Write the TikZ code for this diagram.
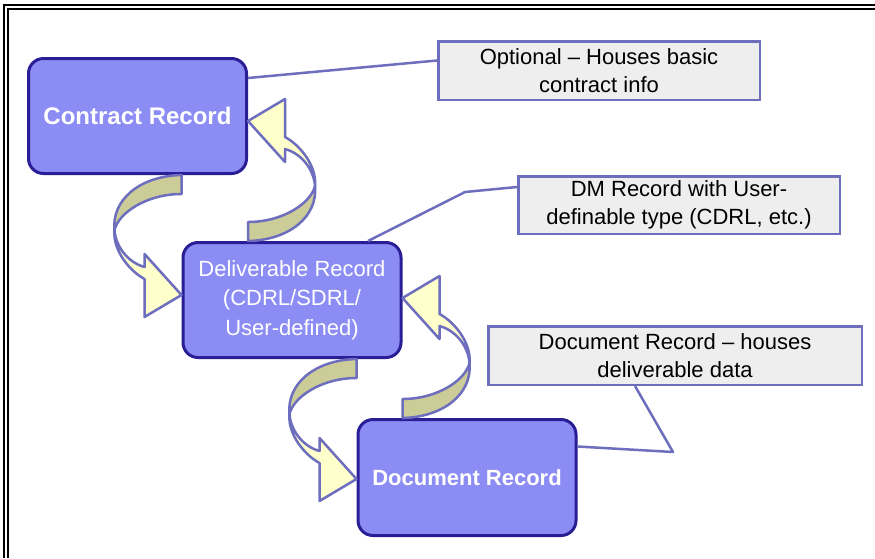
\documentclass[tikz,border=0pt]{standalone}
\usepackage{fontspec}
\setmainfont{Liberation Sans}
\usetikzlibrary{calc}

\definecolor{recfill}{RGB}{140,140,245}
\definecolor{recdraw}{RGB}{42,30,150}
\definecolor{notefill}{RGB}{238,238,238}
\definecolor{notedraw}{RGB}{110,110,190}
\definecolor{arrfront}{RGB}{255,255,204}
\definecolor{arrback}{RGB}{204,204,153}

\tikzset{
  record/.style={draw=recdraw, fill=recfill, line width=3pt, rounded corners=15pt,
    minimum width=218pt, minimum height=115pt, text=white, align=center,
    font=\fontsize{22}{29.5}\selectfont},
  note/.style={draw=notedraw, fill=notefill, line width=2.5pt, align=center,
    inner sep=0pt, font=\fontsize{22}{28}\selectfont},
  pointer/.style={draw=notedraw, line width=2.5pt, line join=round},
  % twisted loop arrow, origin at the top of its tail
  loop arrow/.pic={
    \filldraw[pointer, fill=arrback] (0,0) .. controls (-42,1) and (-70,25) .. (-67,55)
        .. controls (-63,38) and (-35,19) .. (0,19) -- cycle;
    \filldraw[pointer, fill=arrfront] (-67,55) .. controls (-69,75) and (-52,96) .. (-37,104)
        -- (-37,142) -- (0,120) -- (-37,79) -- (-37,92)
        .. controls (-55,87) and (-66,70) .. (-67,55) -- cycle;
  }
}

\begin{document}
\begin{tikzpicture}[x=1pt,y=-1pt]
  \fill[white] (0,0) rectangle (875,558);
  \useasboundingbox (0,0) rectangle (875,558);

  % double frame, top and left
  \draw[line width=2pt] (4,558) -- (4,5) -- (875,5);
  \draw[line width=2pt] (8,558) -- (8,9) -- (875,9);

  % records
  \node[record, font=\fontsize{24}{29}\bfseries] (contract) at (137.5,116) {Contract Record};
  \node[record] (deliv) at (292,300) {Deliverable Record\\(CDRL/SDRL/\\User-defined)};
  \node[record, minimum height=116pt, font=\fontsize{22}{29}\bfseries] (docrec) at (467,477.5) {Document Record};

  % notes
  \node[note, minimum width=321.5pt, minimum height=58.5pt] (optnote) at (599,70.5)
    {Optional -- Houses basic\\contract info};
  \node[note, minimum width=321.5pt, minimum height=57.5pt] (dmnote) at (679,205)
    {DM Record with User-\\definable type (CDRL, etc.)};
  \node[note, minimum width=373.5pt, minimum height=58.5pt] (docnote) at (675,355.5)
    {Document Record -- houses\\deliverable data};

  % pointers to the notes
  \coordinate (dmbend) at (465,192);
  \coordinate (docbend) at (673,452);
  \draw[pointer] ([yshift=-21pt]contract.north east) -- ([yshift=10pt]optnote.west);
  \draw[pointer] ([xshift=76pt]deliv.north) -- (dmbend) -- ([yshift=18pt]dmnote.west);
  \draw[pointer] ([yshift=31pt]docrec.east) -- (docbend) -- ([xshift=-40pt]docnote.south);

  % loop arrows between the records
  \pic at (deliv.west |- contract.south) {loop arrow};
  \pic[rotate=180] at (contract.east |- deliv.north) {loop arrow};
  \pic at (docrec.west |- deliv.south) {loop arrow};
  \pic[rotate=180] at (deliv.east |- docrec.north) {loop arrow};
\end{tikzpicture}
\end{document}
